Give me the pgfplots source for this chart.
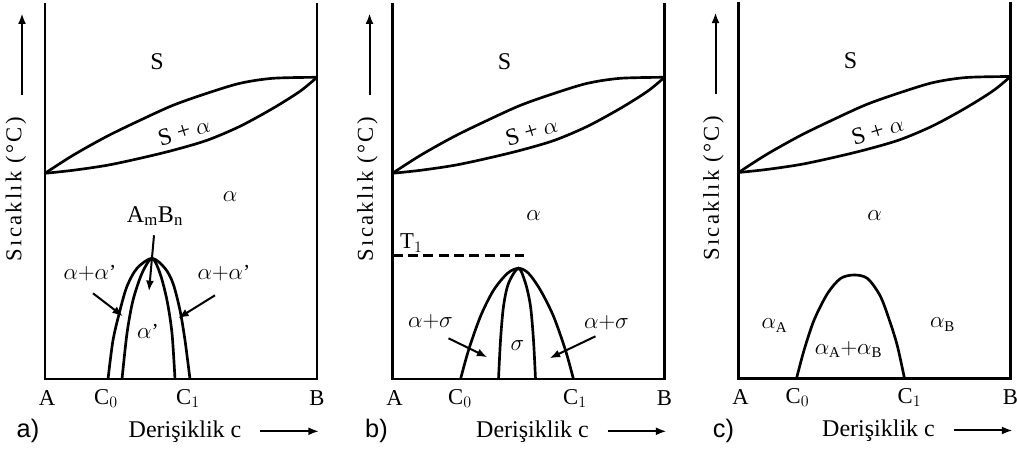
\documentclass[border=0pt]{standalone}
\usepackage{fontspec}
\setmainfont{Liberation Serif}
\newfontfamily\sansf{Liberation Sans}
\newfontfamily\spacedf[LetterSpace=10]{Liberation Serif}
\usepackage{pgfplots}
\pgfplotsset{compat=1.18}
\usetikzlibrary{arrows.meta}

\pgfplotsset{
  panel/.style={hide axis, clip=false, x=0.75pt, y=0.75pt, xmin=0, xmax=272, ymin=0, ymax=376, anchor=south west},
  frm/.style={black, line width=1.6pt, no marks},
  crv/.style={black, line width=2pt, no marks, smooth},
  arr/.style={black, line width=1.5pt, no marks, -{Latex[length=8pt,width=6pt]}},
}
\tikzset{
  big/.style={font=\fontsize{18}{20}\selectfont},
  mid/.style={font=\fontsize{17}{19}\selectfont},
  sml/.style={font=\fontsize{16}{18}\selectfont},
  panl/.style={font=\sansf\fontsize{19}{21}\selectfont},
  ylab/.style={font=\spacedf\fontsize{17}{19}\selectfont, rotate=90},
}

% frame, liquidus/solidus lens (same in the three panels)
\newcommand{\common}[1]{%
  \addplot[frm] coordinates {(0,376) (0,0) (272,0) (272,376)};
  \addplot[crv] coordinates {(0,206) (28,224) (62,243) (95,259) (128,274) (162,286) (195,296) (228,301) (272,302)};
  \addplot[crv] coordinates {(0,206) (28,209) (62,214) (95,221) (128,229) (162,239) (195,253) (228,271) (255,288) (272,302)};
  \node[big] at (axis cs:112,318) {S};
  \node[big, rotate=17] at (axis cs:139,248) {S + $\alpha$};
  \node[mid] at (axis cs:2,-19) {A};
  \node[mid] at (axis cs:272,-19) {B};
  \node[big] at (axis cs:140,-52) {Derişiklik c};
  \addplot[arr] coordinates {(215,-52) (274,-52)};
  \addplot[arr] coordinates {(-23,284) (-23,366)};
  \node[ylab] at (axis cs:#1,190) {Sıcaklık (°C)};
}

\begin{document}
\begin{tikzpicture}
\path[use as bounding box] (0,0) rectangle (762.75pt,348.75pt);

% ---------------- a) ----------------
\begin{axis}[panel, at={(33.75pt,64.28pt)}]
\common{-29}
\addplot[crv] coordinates {(63,0) (68,39) (75,69) (82,93) (92,111) (107,121) (120,111) (128,96) (135,69) (140,39) (145,0)};
\addplot[crv] coordinates {(77,0) (82,46) (88,79) (97,106) (107,121) (115,106) (122,79) (127,46) (130,0)};
\addplot[arr] coordinates {(109,144) (104,88)};
\addplot[arr] coordinates {(48,86) (78,63)};
\addplot[arr] coordinates {(170,84) (133,61)};
\node[big] at (axis cs:110,163) {A$_{\mathrm{m}}$B$_{\mathrm{n}}$};
\node[sml] at (axis cs:185,183) {$\alpha$};
\node[sml] at (axis cs:45,106) {$\alpha{+}\alpha$’};
\node[sml] at (axis cs:179,106) {$\alpha{+}\alpha$’};
\node[sml] at (axis cs:103,48) {$\alpha$’};
\node[mid] at (axis cs:61,-19) {C$_0$};
\node[mid] at (axis cs:143,-19) {C$_1$};
\node[panl] at (axis cs:-17,-52) {a)};
\end{axis}

% ---------------- b) ----------------
\begin{axis}[panel, at={(294.38pt,64.28pt)}]
\common{-25}
\addplot[black, line width=2pt, no marks, dash pattern=on 7.5pt off 4pt] coordinates {(0,123.6) (131,123.6)};
\addplot[crv] coordinates {(68,0) (76,29) (88,63) (101,89) (115,106) (126,111) (136,106) (148,89) (161,63) (173,29) (181,0)};
\addplot[crv] coordinates {(106,0) (108,39) (111,73) (116,96) (126,111) (133,96) (138,73) (141,39) (143,0)};
\addplot[arr] coordinates {(56,41) (95,22)};
\addplot[arr] coordinates {(203,43) (157,21)};
\node[mid, anchor=west] at (axis cs:3,136) {T$_1$};
\node[sml] at (axis cs:141,164) {$\alpha$};
\node[sml] at (axis cs:38,58) {$\alpha{+}\sigma$};
\node[sml] at (axis cs:214,57) {$\alpha{+}\sigma$};
\node[sml] at (axis cs:125,34) {$\sigma$};
\node[mid] at (axis cs:67.5,-19) {C$_0$};
\node[mid] at (axis cs:182.5,-19) {C$_1$};
\node[panl] at (axis cs:-16,-52) {b)};
\end{axis}

% ---------------- c) ----------------
\begin{axis}[panel, at={(553.88pt,64.88pt)}]
\common{-25}
\addplot[crv] coordinates {(58,0) (65.6,28.5) (75.6,58.5) (89,85) (102,100) (115.6,103.5) (129,100) (142,82) (152,55) (159,32) (166,0)};
\node[sml] at (axis cs:136,163) {$\alpha$};
\node[sml] at (axis cs:36,53) {$\alpha_{\mathrm{A}}$};
\node[sml] at (axis cs:204,54) {$\alpha_{\mathrm{B}}$};
\node[sml] at (axis cs:110,29) {$\alpha_{\mathrm{A}}{+}\alpha_{\mathrm{B}}$};
\node[mid] at (axis cs:59,-19) {C$_0$};
\node[mid] at (axis cs:171,-19) {C$_1$};
\node[panl] at (axis cs:-15,-52) {c)};
\end{axis}
\end{tikzpicture}
\end{document}
